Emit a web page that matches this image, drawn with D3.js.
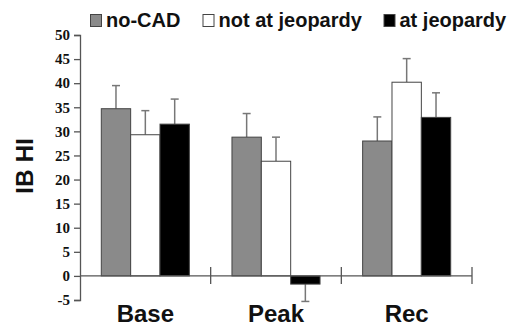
<!DOCTYPE html>
<html>
<head>
<meta charset="utf-8">
<script src="https://d3js.org/d3.v7.min.js"></script>
<style>
  body { margin: 0; background: #fff; }
  svg { display: block; }
</style>
</head>
<body>
<svg width="512" height="327"></svg>
<script>
// chart data
const categories = ['Base', 'Peak', 'Rec'];
const series = ['no-CAD', 'not at jeopardy', 'at jeopardy'];
const seriesColors = ['#8a8a8a', '#ffffff', '#000000'];
const means = [
  [34.7, 29.3, 31.5],   // Base
  [28.8, 23.8, -1.7],   // Peak
  [28.0, 40.2, 32.9]    // Rec
];
const errors = [
  [4.8, 5.0, 5.2],
  [4.9, 5.0, 3.6],
  [5.0, 4.9, 5.1]
];
const yTicks = [-5, 0, 5, 10, 15, 20, 25, 30, 35, 40, 45, 50];

const svg = d3.select('svg');

const x = d3.scaleBand().domain(categories).range([80, 472]).padding(0);
const xs = d3.scaleBand().domain(series).range([21.3, x.bandwidth() - 21.3]).padding(0);
const y = d3.scaleLinear().domain([-5, 50]).range([300, 35]);

// y axis
const yAxis = svg.append('g')
  .attr('transform', 'translate(80,0)')
  .call(d3.axisLeft(y).tickValues(yTicks).tickSize(6).tickPadding(4).tickFormat(d => String(d)));
yAxis.select('.domain').attr('stroke', '#555').attr('stroke-width', 1.3);
yAxis.selectAll('.tick line').attr('stroke', '#555').attr('stroke-width', 1.3);
yAxis.selectAll('.tick text')
  .attr('font-family', '"Liberation Serif", "Times New Roman", serif')
  .attr('font-weight', 'bold')
  .attr('font-size', 15)
  .attr('fill', '#111');

// bars
const groups = svg.append('g').selectAll('g')
  .data(categories)
  .join('g')
  .attr('transform', d => `translate(${x(d)},0)`);

groups.each(function(cat, ci) {
  const g = d3.select(this);
  series.forEach((s, si) => {
    const v = means[ci][si];
    const e = errors[ci][si];
    const cx = xs(s) + xs.bandwidth() / 2;
    const tip = v >= 0 ? v + e : v - e;
    // error bar (one-sided)
    g.append('line')
      .attr('x1', cx).attr('x2', cx)
      .attr('y1', y(v)).attr('y2', y(tip))
      .attr('stroke', '#777').attr('stroke-width', 1.5);
    g.append('line')
      .attr('x1', cx - 4).attr('x2', cx + 4)
      .attr('y1', y(tip)).attr('y2', y(tip))
      .attr('stroke', '#777').attr('stroke-width', 1.5);
    g.append('rect')
      .attr('x', xs(s))
      .attr('y', y(Math.max(0, v)))
      .attr('width', xs.bandwidth())
      .attr('height', Math.abs(y(v) - y(0)))
      .attr('fill', seriesColors[si])
      .attr('stroke', '#444')
      .attr('stroke-width', 1);
  });
});

// x axis line with crossing ticks at band edges
svg.append('line')
  .attr('x1', 80).attr('x2', 472)
  .attr('y1', y(0)).attr('y2', y(0))
  .attr('stroke', '#555').attr('stroke-width', 1.3);
categories.slice(1).map(c => x(c)).concat([x(categories[2]) + x.bandwidth()]).forEach(tx => {
  svg.append('line')
    .attr('x1', tx).attr('x2', tx)
    .attr('y1', y(0) - 9).attr('y2', y(0) + 8)
    .attr('stroke', '#555').attr('stroke-width', 1.3);
});

// category labels
svg.append('g').selectAll('text')
  .data(categories)
  .join('text')
  .attr('x', d => x(d) + x.bandwidth() / 2)
  .attr('y', 322)
  .attr('text-anchor', 'middle')
  .attr('font-family', '"Liberation Sans", Arial, sans-serif')
  .attr('font-weight', 'bold')
  .attr('font-size', 24)
  .attr('fill', '#111')
  .text(d => d);

// y title
svg.append('text')
  .attr('transform', 'translate(32.5,166) rotate(-90)')
  .attr('text-anchor', 'middle')
  .attr('font-family', '"Liberation Sans", Arial, sans-serif')
  .attr('font-weight', 'bold')
  .attr('font-size', 24.5)
  .attr('fill', '#111')
  .text('IB HI');

// legend
const legendX = [90, 202.5, 383.5];
const legend = svg.append('g').selectAll('g')
  .data(series)
  .join('g')
  .attr('transform', (d, i) => `translate(${legendX[i]},0)`);
legend.append('rect')
  .attr('x', 0.5).attr('y', 14.5)
  .attr('width', 11).attr('height', 12)
  .attr('fill', (d, i) => seriesColors[i])
  .attr('stroke', '#444').attr('stroke-width', 1);
legend.append('text')
  .attr('x', 16)
  .attr('y', 27)
  .attr('font-family', '"Liberation Sans", Arial, sans-serif')
  .attr('font-weight', 'bold')
  .attr('font-size', 20)
  .attr('fill', '#111')
  .text(d => d);
</script>
</body>
</html>
